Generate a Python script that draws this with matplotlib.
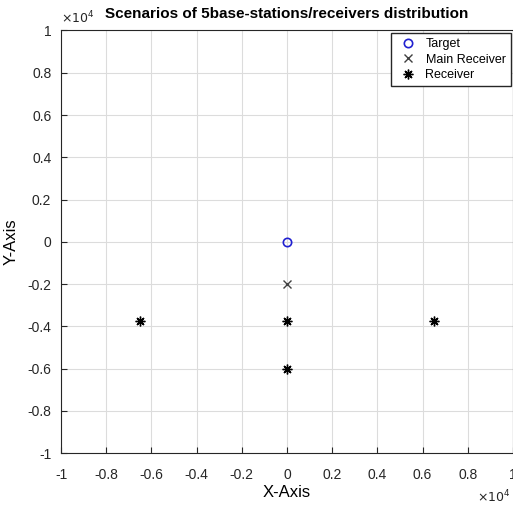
import numpy as np
import matplotlib.pyplot as plt

plt.rcParams['font.family'] = ['Liberation Sans', 'DejaVu Sans']

target_x = [0]
target_y = [0]
main_x = [0]
main_y = [-2000]
recv_x = [-6500, 0, 0, 6500]
recv_y = [-3750, -3750, -6000, -3750]
tick_vals = [-10000, -8000, -6000, -4000, -2000, 0, 2000, 4000, 6000, 8000, 10000]
tick_labels = ['-1', '-0.8', '-0.6', '-0.4', '-0.2', '0', '0.2', '0.4', '0.6', '0.8', '1']

fig = plt.figure(figsize=(5.13, 5.08), dpi=100)
ax = fig.add_axes([0.119, 0.108, 0.881, 0.832])

ax.plot(target_x, target_y, 'o', mfc='none', mec='#2020d0', ms=6, mew=1.2, ls='none', label='Target')
ax.plot(main_x, main_y, 'x', color='#404040', ms=6, mew=1.0, ls='none', label='Main Receiver')
ax.plot(recv_x, recv_y, marker=(8, 2, 0), color='black', ms=7, mew=1.0, ls='none', label='Receiver')

ax.set_xlim(-10000, 10000)
ax.set_ylim(-10000, 10000)
ax.set_xticks(tick_vals)
ax.set_xticklabels(tick_labels)
ax.set_yticks(tick_vals)
ax.set_yticklabels(tick_labels)

ax.grid(True, color='#dcdcdc', lw=0.8)
ax.tick_params(direction='in', labelsize=10, colors='#262626', length=4)
ax.tick_params(axis='x', pad=11)
ax.tick_params(axis='y', pad=7)
for s in ax.spines.values():
    s.set_color('#262626')

ax.text(0.0, 1.01, r'$\times10^4$', transform=ax.transAxes, fontsize=9, color='#262626', ha='left', va='bottom')
ax.text(0.995, -0.083, r'$\times10^4$', transform=ax.transAxes, fontsize=9, color='#262626', ha='right', va='top')

ax.set_xlabel('X-Axis', fontsize=12, labelpad=2)
ax.set_ylabel('Y-Axis', fontsize=12, labelpad=6)
ax.set_title('Scenarios of 5base-stations/receivers distribution', fontsize=11, fontweight='bold', pad=9)
ax.legend(loc='upper right', fontsize=9, fancybox=False, edgecolor='#262626', framealpha=1,
          borderaxespad=0.2, handletextpad=0.4, labelspacing=0.3)

fig.savefig('out.png')
